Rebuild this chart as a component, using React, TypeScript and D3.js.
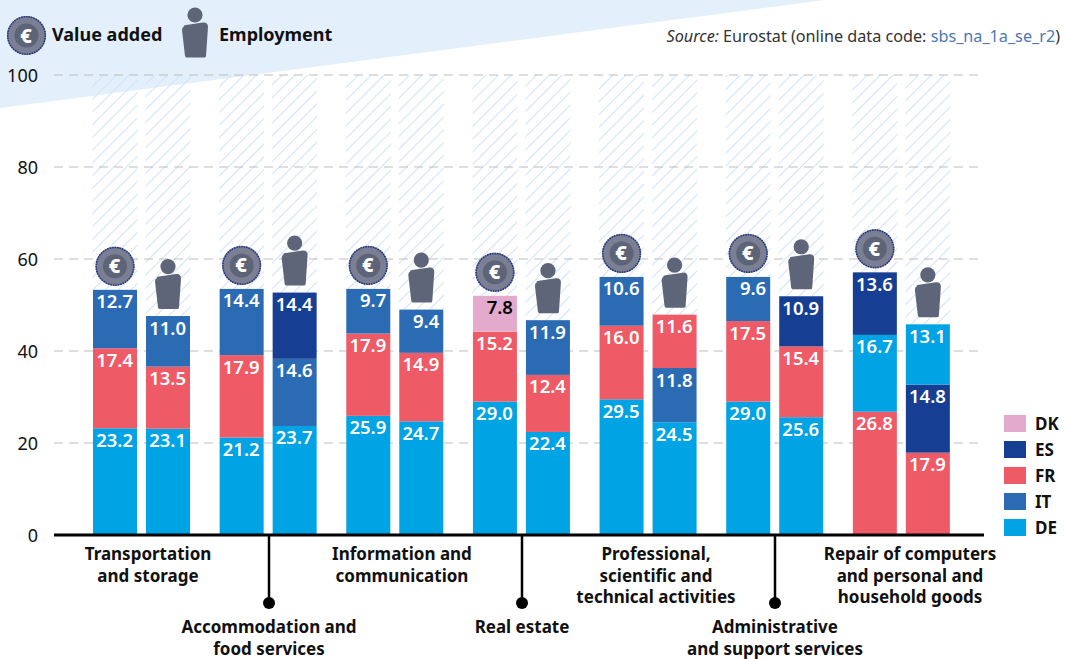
import React from 'react';
import * as d3 from 'd3';

const FONT = '"Noto Sans", sans-serif';
const seriesNames = ['DE', 'IT', 'FR', 'ES', 'DK'];
const colours = ['#00A3E3', '#2A6BB3', '#EE5A66', '#163F94', '#E3AACD'];
const legendOrder = ['DK', 'ES', 'FR', 'IT', 'DE'];
const yTicks = [0, 20, 40, 60, 80, 100];
// two bars per sector: value added, employment
const DE = [23.2, 23.1, 21.2, 23.7, 25.9, 24.7, 29.0, 22.4, 29.5, 24.5, 29.0, 25.6, 16.7, 13.1];
const IT = [12.7, 11.0, 14.4, 14.6, 9.7, 9.4, 0, 11.9, 10.6, 11.8, 9.6, 0, 0, 0];
const FR = [17.4, 13.5, 17.9, 0, 17.9, 14.9, 15.2, 12.4, 16.0, 11.6, 17.5, 15.4, 26.8, 17.9];
const ES = [0, 0, 0, 14.4, 0, 0, 0, 0, 0, 0, 0, 10.9, 13.6, 14.8];
const DK = [0, 0, 0, 0, 0, 0, 7.8, 0, 0, 0, 0, 0, 0, 0];
const allSeries = [DE, IT, FR, ES, DK];
const sectors = [
  { lines: ['Transportation', 'and storage'], low: false },
  { lines: ['Accommodation and', 'food services'], low: true },
  { lines: ['Information and', 'communication'], low: false },
  { lines: ['Real estate'], low: true },
  { lines: ['Professional,', 'scientific and', 'technical activities'], low: false },
  { lines: ['Administrative', 'and support services'], low: true },
  { lines: ['Repair of computers', 'and personal and', 'household goods'], low: false },
];

const y = d3.scaleLinear().domain([0, 100]).range([535, 75]);
const x0 = d3.scaleBand<number>().domain(d3.range(7)).range([78.5, 965]).padding(0);
const x1 = d3.scaleBand<number>().domain([0, 1]).range([14.5, 111.5]).paddingInner(9 / 53).paddingOuter(0);
const barX = (i: number) => x0(Math.floor(i / 2))! + x1(i % 2)!;
const barW = x1.bandwidth();
const colour = d3.scaleOrdinal<string, string>().domain(seriesNames).range(colours);
const labelHigh = d3.scaleLinear().domain([0, 6]).range([148, 910]);
const labelLow = d3.scaleLinear().domain([1, 5]).range([269, 775]);

function Coin({ cx, cy }: { cx: number; cy: number }) {
  return (
    <g transform={`translate(${cx},${cy})`}>
      <circle r={19.5} fill="#7A7F94" />
      <circle r={18.8} fill="none" stroke="#27377F" strokeWidth={1.6} strokeDasharray="1.6 0.9" />
      <circle r={12} fill="#5E6478" />
      <text x={-0.5} y={7} textAnchor="middle" fontFamily={FONT} fontWeight={800} fontSize={20} fill="#fff">€</text>
    </g>
  );
}

function Person({ cx, headY }: { cx: number; headY: number }) {
  return (
    <g transform={`translate(${cx},${headY})`} fill="#5F6579">
      <circle r={7.6} />
      <path d="M-11,11.5 Q-12,10 -9,10 L8,7.5 Q13,7 13,12 L11,41 Q11,42.5 9,42.5 L-8,42.5 Q-9.5,42.5 -10,41 L-13,15 Q-13,12 -11,11.5 Z" />
    </g>
  );
}

export default function App() {
  const stacks = d3.range(14).map((i) => {
    const rows = seriesNames
      .map((name, s) => ({ name, value: allSeries[s][i] }))
      .filter((d) => d.value > 0)
      .sort((a, b) => d3.descending(a.value, b.value));
    let sum = 0;
    return rows.map((r) => {
      const start = sum;
      sum += r.value;
      return { ...r, start, end: sum };
    });
  });
  return (
    <svg width={1065} height={659} style={{ position: 'absolute', left: 0, top: 0 }} fontFamily={FONT}>
      <defs>
        <pattern id="hatch" width={9} height={9} patternUnits="userSpaceOnUse" patternTransform="rotate(45)">
          <line x1={0} y1={0} x2={0} y2={9} stroke="#D3E3F6" strokeWidth={2.2} />
        </pattern>
      </defs>
      <rect width={1065} height={659} fill="#fff" />
      <polygon points="0,0 825,0 0,108" fill="#E3F0FB" />
      {d3.range(14).map((i) => (
        <rect key={i} x={barX(i) - 0.5} width={barW + 1} y={y(100)} height={y(d3.max(stacks[i], (d) => d.end)!) - y(100)} fill="url(#hatch)" />
      ))}
      {yTicks.slice(1).map((t) => (
        <line key={t} x1={54} x2={984} y1={y(t)} y2={y(t)} stroke="#BDBDBD" strokeWidth={1} strokeDasharray="9 6" />
      ))}
      {yTicks.map((t) => (
        <text key={t} x={38} y={y(t) + 6.5} textAnchor="end" fontSize={18} fill="#111">{t}</text>
      ))}
      {stacks.map((rows, i) =>
        rows.map((r) => (
          <g key={r.name}>
            <rect x={barX(i)} width={barW} y={y(r.end)} height={y(r.start) - y(r.end)} fill={colour(r.name)} />
            <text x={barX(i) + barW - 4} y={y(r.end) + 18.5} textAnchor="end" fontSize={18.5} fontWeight={600} fill={r.name === 'DK' ? '#000' : '#fff'}>
              {r.value.toFixed(1)}
            </text>
          </g>
        )),
      )}
      {stacks.map((rows, i) => {
        const top = y(rows[rows.length - 1].end);
        const cx = barX(i) + barW / 2;
        return i % 2 === 0 ? <Coin key={i} cx={cx} cy={top - 23.5} /> : <Person key={i} cx={cx} headY={top - 49.5} />;
      })}
      <line x1={54} x2={984} y1={535} y2={535} stroke="#000" strokeWidth={3} />
      {sectors.map((s, k) => {
        const cx = s.low ? labelLow(k) : labelHigh(k);
        return (
          <g key={k}>
            {s.low && (
              <>
                <line x1={cx} x2={cx} y1={535} y2={603} stroke="#000" strokeWidth={2.5} />
                <circle cx={cx} cy={603} r={6} fill="#000" />
              </>
            )}
            {s.lines.map((l, n) => (
              <text key={n} x={cx} y={(s.low ? 633 : 560) + n * 21.5} textAnchor="middle" fontSize={17} fontWeight={700} fill="#111">{l}</text>
            ))}
          </g>
        );
      })}
      {legendOrder.map((n, k) => (
        <g key={n}>
          <rect x={1004} y={415 + k * 26} width={22} height={17} fill={colour(n)} />
          <text x={1035} y={430 + k * 26} fontSize={17} fontWeight={700} fill="#111">{n}</text>
        </g>
      ))}
      <Coin cx={26.5} cy={35.5} />
      <text x={52} y={41} fontSize={18} fontWeight={700} fill="#111">Value added</text>
      <Person cx={195} headY={15} />
      <text x={219} y={41} fontSize={18} fontWeight={700} fill="#111">Employment</text>
      <text x={1060} y={42} textAnchor="end" fontSize={16.2} fill="#333">
        <tspan fontStyle="italic">Source:</tspan> Eurostat (online data code: <tspan fill="#4C78B3">sbs_na_1a_se_r2</tspan>)
      </text>
    </svg>
  );
}
